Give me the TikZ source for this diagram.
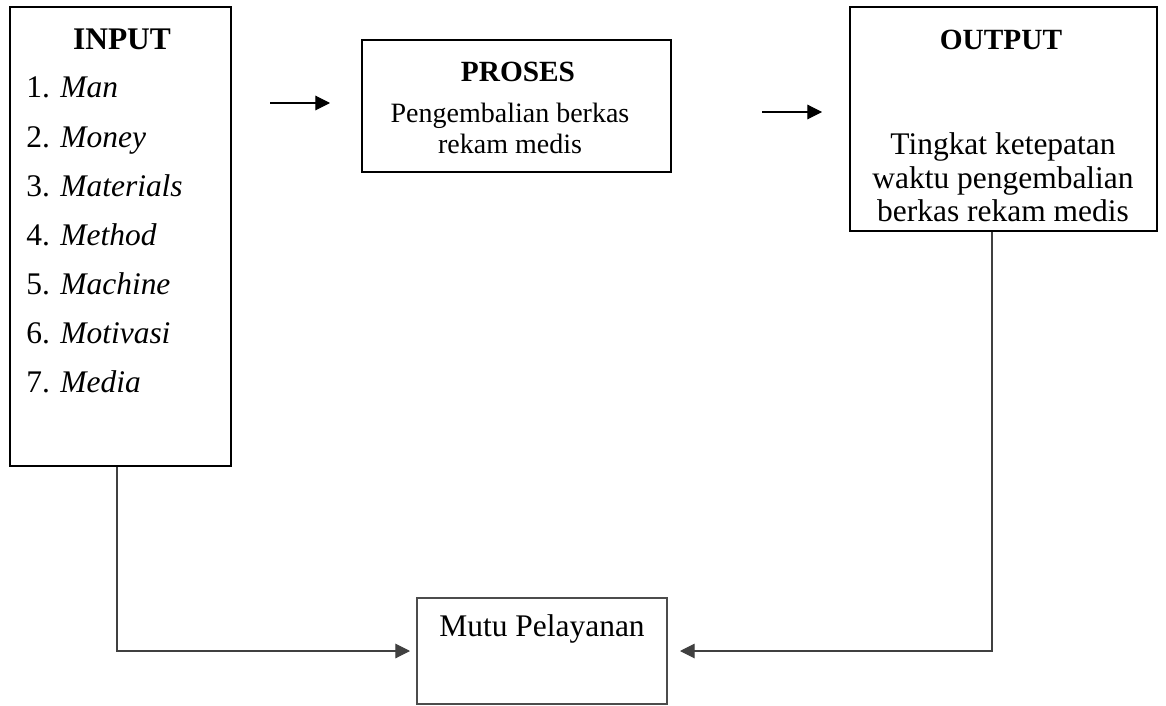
\documentclass[tikz,border=0pt]{standalone}
\usepackage{fontspec}
\setmainfont{Liberation Serif}
\usetikzlibrary{arrows.meta}

\tikzset{
    box/.style={draw, line width=1.5pt, inner sep=0pt},
    lbl/.style={inner sep=0pt, anchor=base, font=\fontsize{23.6}{29}\selectfont},
    small/.style={lbl, font=\fontsize{21}{26}\selectfont},
    head/.style={lbl, font=\fontsize{23.6}{29}\selectfont\bfseries},
    conn/.style={line width=0.8pt},
    tip/.style={-{Triangle[length=11pt, width=11pt]}}
}

\begin{document}
\begin{tikzpicture}[x=0.75pt, y=-0.75pt]
    \useasboundingbox (0, 0) rectangle (1166, 706);

    % boxes
    \node[box, minimum width=165.75pt, minimum height=344.25pt] (input) at (120.5, 236.5) {};
    \node[box, minimum width=231.75pt, minimum height=99pt] (proses) at (516.5, 106) {};
    \node[box, minimum width=230.25pt, minimum height=168pt] (output) at (1003.5, 119) {};
    \node[box, draw=black!70, minimum width=187.5pt, minimum height=79.5pt] (mutu) at (542, 651) {};

    % input texts
    \node[head] (inhead) at (122, 50) {INPUT};
    \node[lbl, anchor=base west] (in1) at (26, 98) {1. \textit{Man}};
    \node[lbl, anchor=base west] (in2) at (26, 147) {2. \textit{Money}};
    \node[lbl, anchor=base west] (in3) at (26, 196) {3. \textit{Materials}};
    \node[lbl, anchor=base west] (in4) at (26, 245) {4. \textit{Method}};
    \node[lbl, anchor=base west] (in5) at (26, 294) {5. \textit{Machine}};
    \node[lbl, anchor=base west] (in6) at (26, 343) {6. \textit{Motivasi}};
    \node[lbl, anchor=base west] (in7) at (26, 392) {7. \textit{Media}};

    % proses texts
    \node[head, font=\fontsize{22}{27}\selectfont\bfseries] (prhead) at (518, 82) {PROSES};
    \node[small] (pr1) at (510, 123) {Pengembalian berkas};
    \node[small] (pr2) at (510, 154) {rekam medis};

    % output texts
    \node[head, font=\fontsize{22}{27}\selectfont\bfseries] (outhead) at (1001, 50) {OUTPUT};
    \node[lbl] (out1) at (1003, 155) {Tingkat ketepatan};
    \node[lbl] (out2) at (1003, 188) {waktu pengembalian};
    \node[lbl] (out3) at (1003, 221) {berkas rekam medis};

    % mutu text
    \node[lbl] (mututext) at (542, 636) {Mutu Pelayanan};

    % arrows on top
    \coordinate (a1) at (270, 103);
    \coordinate (b1) at (330, 103);
    \coordinate (a2) at (762, 112);
    \coordinate (b2) at (822, 112);
    \draw[conn, tip] (a1) -- (b1);
    \draw[conn, tip] (a2) -- (b2);

    % lines down to mutu
    \coordinate (c1) at (117, 651);
    \coordinate (c2) at (410, 651);
    \coordinate (d1) at (992, 651);
    \coordinate (d2) at (680, 651);
    \draw[conn, draw=black!75, tip] (input.south -| c1) -- (c1) -- (c2);
    \draw[conn, draw=black!75, tip] (output.south -| d1) -- (d1) -- (d2);
\end{tikzpicture}
\end{document}
